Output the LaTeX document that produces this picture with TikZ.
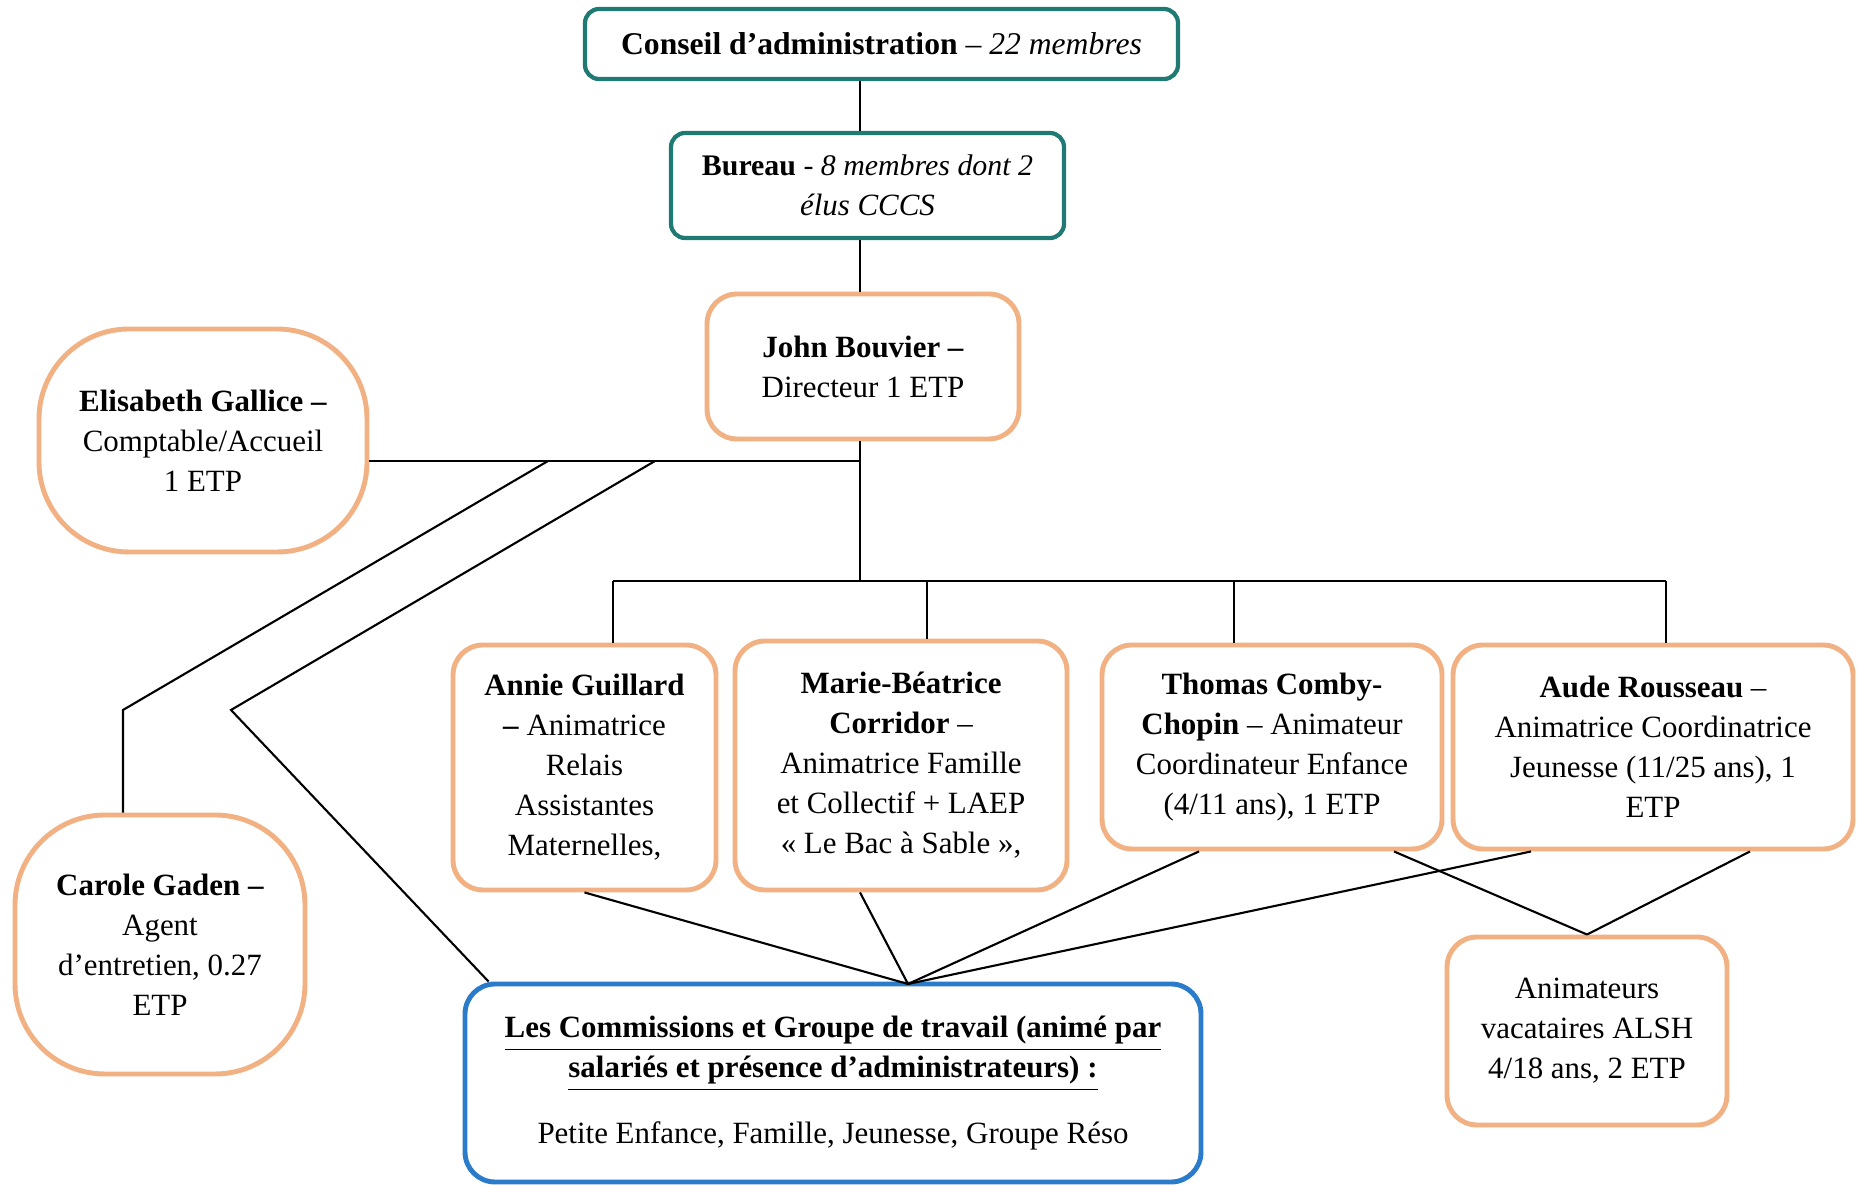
\documentclass[tikz,border=0pt]{standalone}
\usepackage{fontspec}
\setmainfont{Liberation Serif}

\definecolor{bordteal}{HTML}{1F7A74}
\definecolor{bordorange}{HTML}{F2B183}
\definecolor{bordblue}{HTML}{2B7BCB}

\tikzset{
  cabox/.style={draw=bordteal, line width=1.2pt, rounded corners=4pt, align=center, inner sep=0pt},
  persbox/.style={draw=bordorange, line width=1.4pt, rounded corners=0.3cm, align=center, inner sep=0pt},
  barrelbox/.style={persbox, rounded corners=0.9cm},
  commbox/.style={draw=bordblue, line width=1.4pt, rounded corners=0.3cm, align=center, inner sep=0pt},
  link/.style={draw=black, line width=0.6pt},
  every node/.style={font=\fontsize{8.8}{11.4}\selectfont}
}

\begin{document}
\begin{tikzpicture}
\useasboundingbox (0,0) rectangle (18.57,11.84);

\node[cabox, minimum width=5.93cm, minimum height=0.70cm] (conseil) at (8.815,11.40)
  {\fontsize{9.0}{11.4}\selectfont\textbf{Conseil d’administration} – \textit{22 membres}};
\node[cabox, minimum width=3.93cm, minimum height=1.05cm] (bureau) at (8.675,9.985)
  {\fontsize{8.5}{9.8}\selectfont\textbf{Bureau} - \textit{8 membres dont 2}\\\textit{élus CCCS}};
\node[persbox, minimum width=3.12cm, minimum height=1.45cm] (john) at (8.63,8.175)
  {\textbf{John Bouvier –}\\Directeur 1 ETP};
\node[barrelbox, minimum width=3.28cm, minimum height=2.23cm] (elis) at (2.03,7.435)
  {\textbf{Elisabeth Gallice –}\\Comptable/Accueil\\1 ETP};
\node[persbox, minimum width=2.63cm, minimum height=2.45cm] (annie) at (5.845,4.165)
  {\textbf{Annie Guillard}\\\textbf{–} Animatrice\\Relais\\Assistantes\\Maternelles,};
\node[persbox, minimum width=3.32cm, minimum height=2.49cm] (marie) at (9.01,4.185)
  {\textbf{Marie-Béatrice}\\\textbf{Corridor} –\\Animatrice Famille\\et Collectif + LAEP\\«~Le Bac à Sable~»,};
\node[persbox, minimum width=3.40cm, minimum height=2.04cm] (thomas) at (12.72,4.37)
  {\textbf{Thomas Comby-}\\\textbf{Chopin} – Animateur\\Coordinateur Enfance\\(4/11 ans), 1 ETP};
\node[persbox, minimum width=4.00cm, minimum height=2.04cm] (aude) at (16.53,4.37)
  {\textbf{Aude Rousseau} –\\Animatrice Coordinatrice\\Jeunesse (11/25 ans), 1\\ETP};
\node[barrelbox, minimum width=2.90cm, minimum height=2.59cm] (carole) at (1.60,2.395)
  {\textbf{Carole Gaden –}\\Agent\\d’entretien, 0.27\\ETP};
\node[commbox, minimum width=7.36cm, minimum height=1.98cm] (comm) at (8.33,1.01)
  {\textbf{\underline{Les Commissions et Groupe de travail (animé par}}\\
   \textbf{\underline{salariés et présence d’administrateurs) :}}\\[0.25cm]
   Petite Enfance, Famille, Jeunesse, Groupe Réso};
\node[persbox, minimum width=2.80cm, minimum height=1.88cm] (anim) at (15.87,1.53)
  {Animateurs\\vacataires ALSH\\4/18 ans, 2 ETP};

\coordinate (spine) at (8.60,0);
\coordinate (hub) at (8.60,7.23);
\coordinate (jbus) at (8.60,6.03);
\coordinate (busL) at (6.13,6.03);
\coordinate (busR) at (16.66,6.03);
\coordinate (dM) at (9.27,6.03);
\coordinate (dT) at (12.34,6.03);
\coordinate (kA) at (5.48,7.23);
\coordinate (kA2) at (1.23,4.74);
\coordinate (kB) at (6.55,7.23);
\coordinate (kB2) at (2.31,4.74);
\coordinate (meet) at (9.08,2.00);

\draw[link] (conseil.south -| spine) -- (bureau.north -| spine);
\draw[link] (bureau.south -| spine) -- (john.north -| spine);
\draw[link] (john.south -| spine) -- (jbus);
\draw[link] (elis.east |- hub) -- (hub);
\draw[link] (busL) -- (busR);
\draw[link] (busL) -- (busL |- annie.north);
\draw[link] (dM) -- (dM |- marie.north);
\draw[link] (dT) -- (dT |- thomas.north);
\draw[link] (busR) -- (busR |- aude.north);
\draw[link] (kA) -- (kA2) -- (kA2 |- carole.north);
\draw[link] (kB) -- (kB2) -- ([xshift=0.26cm]comm.north west);
\draw[link] (annie.south) -- (meet);
\draw[link] (marie.south -| spine) -- (meet);
\draw[link] ([xshift=-0.73cm]thomas.south) -- (meet);
\draw[link] ([xshift=-1.22cm]aude.south) -- (meet);
\draw[link] ([xshift=1.22cm]thomas.south) -- (anim.north);
\draw[link] ([xshift=0.97cm]aude.south) -- (anim.north);
\end{tikzpicture}
\end{document}
